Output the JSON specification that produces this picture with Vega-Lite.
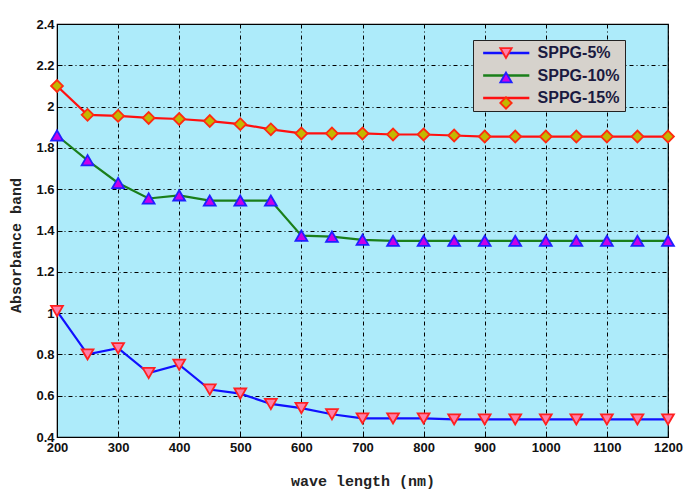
{
  "$schema": "https://vega.github.io/schema/vega-lite/v6.json",
  "width": 611,
  "height": 413,
  "autosize": {"type": "none"},
  "padding": {"left": 57, "top": 24, "right": 20, "bottom": 54},
  "background": "white",
  "config": {
    "view": {"fill": "#ADEBFA", "stroke": "#000000", "strokeWidth": 1.2},
    "axis": {
      "labelFont": "Liberation Sans",
      "labelFontWeight": "bold",
      "labelFontSize": 13,
      "labelColor": "#111111",
      "labelFlush": false,
      "grid": true,
      "gridColor": "#000000",
      "gridDash": [4, 3, 1, 3],
      "gridWidth": 1,
      "gridOpacity": 1,
      "domainColor": "#000000",
      "tickColor": "#000000",
      "tickSize": -5,
      "titleFont": "Liberation Mono",
      "titleFontWeight": "bold",
      "titleFontSize": 15,
      "titleColor": "#222222"
    },
    "legend": {
      "orient": "none",
      "legendX": 416,
      "legendY": 16,
      "title": null,
      "padding": 5,
      "rowPadding": 6.5,
      "labelFont": "Liberation Sans",
      "labelFontWeight": "bold",
      "labelFontSize": 16,
      "labelColor": "#1a1a40",
      "labelOffset": 43.6,
      "symbolSize": 130
    }
  },
  "data": {
    "values": [
      {"wl": 200, "series": "SPPG-5%", "v": 1.01},
      {"wl": 250, "series": "SPPG-5%", "v": 0.80},
      {"wl": 300, "series": "SPPG-5%", "v": 0.83},
      {"wl": 350, "series": "SPPG-5%", "v": 0.71},
      {"wl": 400, "series": "SPPG-5%", "v": 0.75},
      {"wl": 450, "series": "SPPG-5%", "v": 0.63},
      {"wl": 500, "series": "SPPG-5%", "v": 0.61},
      {"wl": 550, "series": "SPPG-5%", "v": 0.56},
      {"wl": 600, "series": "SPPG-5%", "v": 0.54},
      {"wl": 650, "series": "SPPG-5%", "v": 0.51},
      {"wl": 700, "series": "SPPG-5%", "v": 0.49},
      {"wl": 750, "series": "SPPG-5%", "v": 0.49},
      {"wl": 800, "series": "SPPG-5%", "v": 0.49},
      {"wl": 850, "series": "SPPG-5%", "v": 0.485},
      {"wl": 900, "series": "SPPG-5%", "v": 0.485},
      {"wl": 950, "series": "SPPG-5%", "v": 0.485},
      {"wl": 1000, "series": "SPPG-5%", "v": 0.485},
      {"wl": 1050, "series": "SPPG-5%", "v": 0.485},
      {"wl": 1100, "series": "SPPG-5%", "v": 0.485},
      {"wl": 1150, "series": "SPPG-5%", "v": 0.485},
      {"wl": 1200, "series": "SPPG-5%", "v": 0.485},
      {"wl": 200, "series": "SPPG-10%", "v": 1.86},
      {"wl": 250, "series": "SPPG-10%", "v": 1.74},
      {"wl": 300, "series": "SPPG-10%", "v": 1.63},
      {"wl": 350, "series": "SPPG-10%", "v": 1.555},
      {"wl": 400, "series": "SPPG-10%", "v": 1.57},
      {"wl": 450, "series": "SPPG-10%", "v": 1.545},
      {"wl": 500, "series": "SPPG-10%", "v": 1.545},
      {"wl": 550, "series": "SPPG-10%", "v": 1.545},
      {"wl": 600, "series": "SPPG-10%", "v": 1.375},
      {"wl": 650, "series": "SPPG-10%", "v": 1.37},
      {"wl": 700, "series": "SPPG-10%", "v": 1.355},
      {"wl": 750, "series": "SPPG-10%", "v": 1.35},
      {"wl": 800, "series": "SPPG-10%", "v": 1.35},
      {"wl": 850, "series": "SPPG-10%", "v": 1.35},
      {"wl": 900, "series": "SPPG-10%", "v": 1.35},
      {"wl": 950, "series": "SPPG-10%", "v": 1.35},
      {"wl": 1000, "series": "SPPG-10%", "v": 1.35},
      {"wl": 1050, "series": "SPPG-10%", "v": 1.35},
      {"wl": 1100, "series": "SPPG-10%", "v": 1.35},
      {"wl": 1150, "series": "SPPG-10%", "v": 1.35},
      {"wl": 1200, "series": "SPPG-10%", "v": 1.35},
      {"wl": 200, "series": "SPPG-15%", "v": 2.10},
      {"wl": 250, "series": "SPPG-15%", "v": 1.96},
      {"wl": 300, "series": "SPPG-15%", "v": 1.955},
      {"wl": 350, "series": "SPPG-15%", "v": 1.945},
      {"wl": 400, "series": "SPPG-15%", "v": 1.94},
      {"wl": 450, "series": "SPPG-15%", "v": 1.93},
      {"wl": 500, "series": "SPPG-15%", "v": 1.915},
      {"wl": 550, "series": "SPPG-15%", "v": 1.89},
      {"wl": 600, "series": "SPPG-15%", "v": 1.87},
      {"wl": 650, "series": "SPPG-15%", "v": 1.87},
      {"wl": 700, "series": "SPPG-15%", "v": 1.87},
      {"wl": 750, "series": "SPPG-15%", "v": 1.865},
      {"wl": 800, "series": "SPPG-15%", "v": 1.865},
      {"wl": 850, "series": "SPPG-15%", "v": 1.86},
      {"wl": 900, "series": "SPPG-15%", "v": 1.855},
      {"wl": 950, "series": "SPPG-15%", "v": 1.855},
      {"wl": 1000, "series": "SPPG-15%", "v": 1.855},
      {"wl": 1050, "series": "SPPG-15%", "v": 1.855},
      {"wl": 1100, "series": "SPPG-15%", "v": 1.855},
      {"wl": 1150, "series": "SPPG-15%", "v": 1.855},
      {"wl": 1200, "series": "SPPG-15%", "v": 1.855}
    ]
  },
  "encoding": {
    "x": {
      "field": "wl", "type": "quantitative",
      "scale": {"domain": [200, 1200], "nice": false},
      "axis": {"values": [200,300,400,500,600,700,800,900,1000,1100,1200], "format": "d", "title": "wave length (nm)", "titlePadding": 19, "labelPadding": 9}
    },
    "y": {
      "field": "v", "type": "quantitative",
      "scale": {"domain": [0.4, 2.4], "nice": false},
      "axis": {"values": [0.4,0.6,0.8,1.0,1.2,1.4,1.6,1.8,2.0,2.2,2.4], "format": ".1~f", "title": "Absorbance band", "titlePadding": 12, "titleY": 221, "labelPadding": 8}
    }
  },
  "layer": [
    {
      "mark": {"type": "line", "strokeWidth": 2.2},
      "encoding": {
        "color": {
          "field": "series", "type": "nominal",
          "sort": ["SPPG-5%", "SPPG-10%", "SPPG-15%"],
          "scale": {"range": ["#1010FF", "#1A7F1A", "#FF1010"]},
          "legend": {
            "symbolType": "M-0.5,0H7.6", "symbolStrokeWidth": 2.5,
            "fillColor": "#D6D2CC", "strokeColor": "#222222"
          }
        }
      }
    },
    {
      "mark": {"type": "point", "filled": true, "size": 140, "strokeWidth": 1.8, "opacity": 1},
      "encoding": {
        "shape": {
          "field": "series", "type": "nominal",
          "scale": {"domain": ["SPPG-5%", "SPPG-10%", "SPPG-15%"], "range": ["triangle-down", "triangle-up", "diamond"]},
          "legend": {"labelExpr": "''", "symbolOffset": 20, "symbolStrokeWidth": 1.8}
        },
        "fill": {
          "field": "series", "type": "nominal",
          "scale": {"domain": ["SPPG-5%", "SPPG-10%", "SPPG-15%"], "range": ["#FF7FA8", "#C800E8", "#C2B800"]},
          "legend": {"labelExpr": "''", "symbolOffset": 20, "symbolStrokeWidth": 1.8}
        },
        "stroke": {
          "field": "series", "type": "nominal",
          "scale": {"domain": ["SPPG-5%", "SPPG-10%", "SPPG-15%"], "range": ["#FF2020", "#2020FF", "#FF2A10"]},
          "legend": {"labelExpr": "''", "symbolOffset": 20, "symbolStrokeWidth": 1.8}
        }
      }
    }
  ]
}
